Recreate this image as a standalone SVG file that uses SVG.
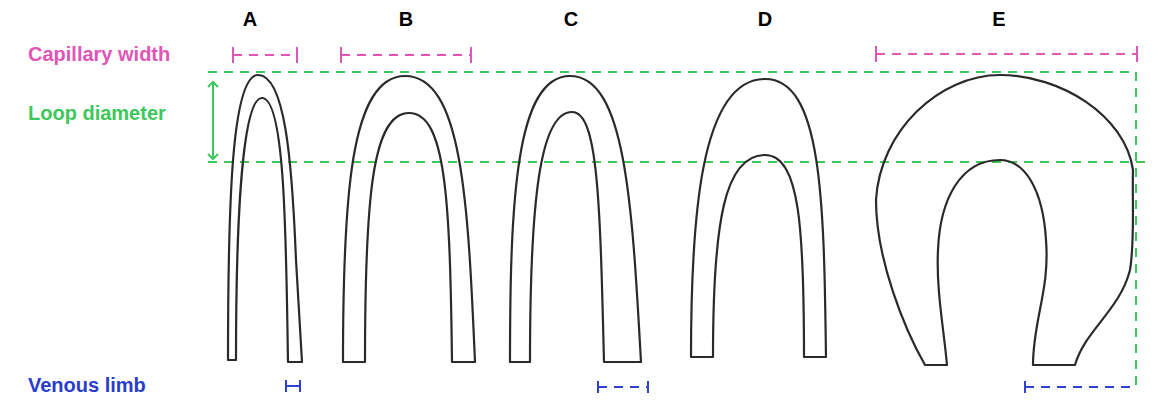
<svg xmlns="http://www.w3.org/2000/svg" width="1158" height="410" viewBox="0 0 1158 410">
<style>
.t{font-family:"Liberation Sans",Arial,sans-serif;font-weight:bold;font-size:20px}
.cap{fill:none;stroke:#2a2a2a;stroke-width:2.2;stroke-linejoin:round}
.pk{stroke:#e055b5;stroke-width:2;fill:none}
.gr{stroke:#3ec75a;stroke-width:2;fill:none}
.bl{stroke:#3040d0;stroke-width:2;fill:none}
.d{stroke-dasharray:9 7}
</style>
<defs>
<marker id="ah" viewBox="0 0 12 12" refX="6" refY="6" markerWidth="12" markerHeight="12" orient="auto-start-reverse" markerUnits="userSpaceOnUse"><path d="M1,1 L6,6 L1,11" fill="none" stroke="#3ec75a" stroke-width="2"/></marker>
</defs>
<rect width="1158" height="410" fill="#fff"/>
<g id="labels">
<text class="t" x="28" y="61" fill="#e055b5">Capillary width</text>
<text class="t" x="28" y="120" fill="#3ec75a">Loop diameter</text>
<text class="t" x="28" y="392" fill="#2a3ccc">Venous limb</text>
<text class="t" x="250" y="26" text-anchor="middle">A</text>
<text class="t" x="406" y="26" text-anchor="middle">B</text>
<text class="t" x="571" y="26" text-anchor="middle">C</text>
<text class="t" x="765" y="26" text-anchor="middle">D</text>
<text class="t" x="999" y="26" text-anchor="middle">E</text>
</g>
<g id="connectors">
<path class="pk d" d="M233,55 H297"/><path class="pk" d="M233,47 V63 M297,47 V63"/>
<path class="pk d" d="M341,55 H471"/><path class="pk" d="M341,47 V63 M471,47 V63"/>
<path class="pk d" d="M876,54 H1137"/><path class="pk" d="M876,46 V62 M1137,46 V62"/>
<path class="gr d" d="M208,72 H1136 V392"/>
<path class="gr d" d="M208,162 H1145"/>
<path class="gr" d="M213,82 V159" marker-start="url(#ah)" marker-end="url(#ah)"/>
<path class="bl" d="M286,386 H300 M286,380 V392 M300,380 V392"/>
<path class="bl d" d="M598,387 H648"/><path class="bl" d="M598,381 V393 M648,381 V393"/>
<path class="bl d" d="M1025,387 H1137"/><path class="bl" d="M1025,381 V393"/>
</g>
<g id="A"><path class="cap" d="M228,360 C228,200 232,75 258,75 C285,75 292,160 296,260 L302,362 L288,362 C286,250 286,98 262,98 C240,98 236,250 236,360 Z"/></g>
<g id="B"><path class="cap" d="M343,362 C343,200 350,76 405,76 C462,76 468,200 475,362 L452,362 C450,200 446,113 409,113 C372,113 365,200 365,362 Z"/></g>
<g id="C"><path class="cap" d="M510,362 C510,200 516,76 570,76 C625,76 632,200 641,362 L604,362 C600,200 598,112 572,112 C540,112 530,200 530,362 Z"/></g>
<g id="D"><path class="cap" d="M691,357 C691,220 700,79 765,79 C822,79 824,200 826,357 L804,357 C804,230 800,155 765,155 C725,155 713,220 713,357 Z"/></g>
<g id="E"><path class="cap" d="M925,365 C905,330 876,260 876,200 C880,130 940,75 1000,75 C1060,75 1125,115 1133,170 C1132,200 1135,240 1130,270 C1120,310 1085,330 1075,365 L1033,365 C1033,320 1050,290 1046,240 C1043,190 1025,160 1000,160 C960,160 940,200 938,250 C936,290 944,330 947,365 Z"/></g>
</svg>
